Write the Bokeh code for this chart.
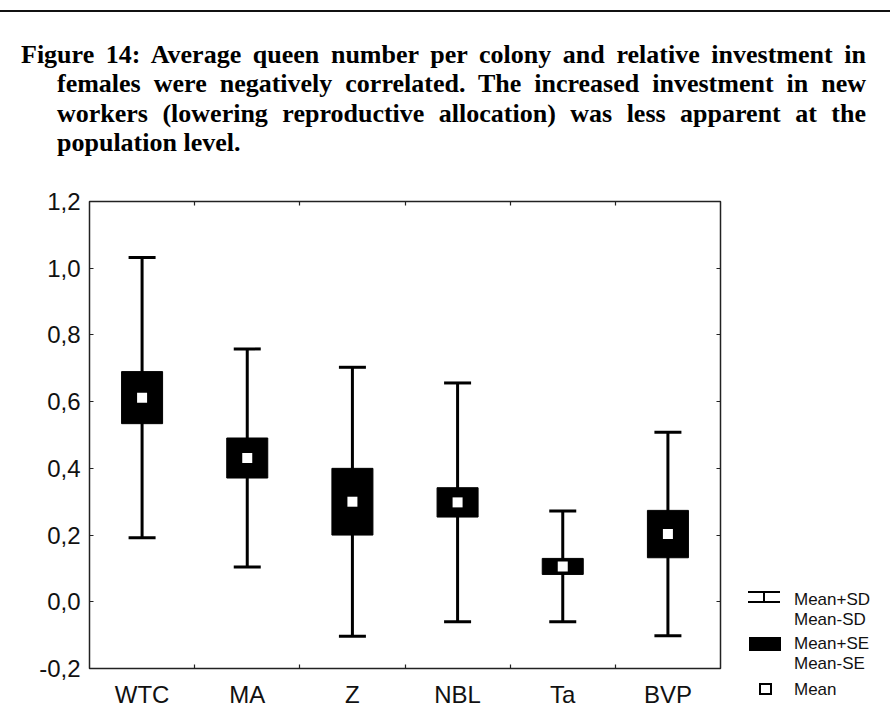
from bokeh.plotting import figure
from bokeh.models import (Range1d, LinearAxis, FixedTicker, Div, Whisker, TeeHead,
                          ColumnDataSource)
from bokeh.layouts import column, row
from bokeh.embed import file_html
from bokeh.resources import INLINE

# ---------------- data ----------------
CATEGORIES = ["WTC", "MA", "Z", "NBL", "Ta", "BVP"]
MEAN = [0.612, 0.431, 0.300, 0.298, 0.106, 0.203]
SE = [0.078, 0.060, 0.100, 0.044, 0.024, 0.071]
SD = [0.420, 0.327, 0.403, 0.358, 0.166, 0.305]
Y_TICKS = [-0.2, 0.0, 0.2, 0.4, 0.6, 0.8, 1.0, 1.2]
Y_TICK_LABELS = ["-0,2", "0,0", "0,2", "0,4", "0,6", "0,8", "1,0", "1,2"]
LEGEND_LABELS = ["Mean+SD", "Mean-SD", "Mean+SE", "Mean-SE", "Mean"]
TITLE = ("Figure 14: Average queen number per colony and relative investment in "
         "females were negatively correlated. The increased investment in new "
         "workers (lowering reproductive allocation) was less apparent at the "
         "population level.")

SANS = "Liberation Sans"

n = len(CATEGORIES)
xc = [i + 0.5 for i in range(n)]
src = ColumnDataSource(dict(
    x=xc, cat=CATEGORIES, mean=MEAN,
    sd_hi=[m + s for m, s in zip(MEAN, SD)],
    sd_lo=[m - s for m, s in zip(MEAN, SD)],
    se_hi=[m + s for m, s in zip(MEAN, SE)],
    se_lo=[m - s for m, s in zip(MEAN, SE)],
))

# ---------------- title ----------------
title_html = (
    '<div style="width:890px;height:2px;background:#111;margin:10px 0 0 0;"></div>'
    '<p style="margin:28px 0 0 21px;width:845px;box-sizing:border-box;'
    'padding-left:36px;text-indent:-36px;text-align:justify;'
    "font-family:'Liberation Serif',serif;font-weight:bold;font-size:26px;"
    'line-height:29.3px;color:#000;">' + TITLE + '</p>'
)
div = Div(text=title_html, width=890, height=178,
          styles={"overflow": "hidden", "margin": "0", "padding": "0"})

# ---------------- main plot ----------------
p = figure(width=725, height=532,
           x_range=Range1d(0, n), y_range=Range1d(-0.2, 1.2),
           x_axis_type=None, y_axis_type=None,
           output_backend="svg", toolbar_location=None,
           min_border_left=89, min_border_right=5,
           min_border_top=23, min_border_bottom=40,
           background_fill_color="white", border_fill_color="white")
p.xgrid.visible = False
p.ygrid.visible = False
p.outline_line_color = "#222222"
p.outline_line_width = 1.5
p.outline_line_alpha = 1.0

bounds = [float(i) for i in range(1, n)]

def x_axis(loc, labels):
    ax = LinearAxis(ticker=FixedTicker(ticks=xc, minor_ticks=bounds))
    ax.axis_line_color = None
    ax.major_tick_line_color = None
    ax.minor_tick_in = 4
    ax.minor_tick_out = 0
    ax.minor_tick_line_color = "#222222"
    ax.minor_tick_line_width = 1.2
    ax.major_label_text_font = SANS
    ax.major_label_text_font_size = "24px"
    ax.major_label_text_color = "#111"
    if labels:
        ax.major_label_overrides = {x: c for x, c in zip(xc, CATEGORIES)}
        ax.major_label_standoff = 6
    else:
        ax.major_label_overrides = {x: "" for x in xc}
        ax.major_label_standoff = 0
    p.add_layout(ax, loc)

def y_axis(loc, labels):
    ax = LinearAxis(ticker=FixedTicker(ticks=Y_TICKS, minor_ticks=[]))
    ax.axis_line_color = None
    ax.major_tick_in = 4
    ax.major_tick_out = 0
    ax.major_tick_line_color = "#222222"
    ax.major_tick_line_width = 1.2
    ax.minor_tick_line_color = None
    ax.major_label_text_font = SANS
    ax.major_label_text_font_size = "24px"
    ax.major_label_text_color = "#111"
    if labels:
        ax.major_label_overrides = {t: l for t, l in zip(Y_TICKS, Y_TICK_LABELS)}
        ax.major_label_standoff = 9
    else:
        ax.major_label_overrides = {t: "" for t in Y_TICKS}
        ax.major_label_standoff = 0
    p.add_layout(ax, loc)

x_axis("below", True)
x_axis("above", False)
y_axis("left", True)
y_axis("right", False)

wh = Whisker(base="x", upper="sd_hi", lower="sd_lo", source=src,
             line_color="black", line_width=3, level="underlay",
             upper_head=TeeHead(size=27, line_width=3, line_color="black"),
             lower_head=TeeHead(size=27, line_width=3, line_color="black"))
p.add_layout(wh)
p.vbar(x="x", width=0.39, top="se_hi", bottom="se_lo", source=src,
       fill_color="black", line_color="black", line_width=1)
p.scatter(x="x", y="mean", source=src, marker="square", size=10,
          fill_color="white", line_color=None)

# ---------------- legend panel (HTML, page origin at 725,178) ----------------
OX, OY = 725, 178

def blk(l, t, w, h, extra="background:#000;"):
    return (f'<div style="position:absolute;left:{l - OX}px;top:{t - OY}px;'
            f'width:{w}px;height:{h}px;box-sizing:border-box;{extra}"></div>')

icons = (
    blk(748, 591, 32, 2) + blk(748, 601, 32, 2) + blk(763, 592, 2, 10)   # whisker icon
    + blk(749, 637, 32, 14)                                              # SE icon
    + blk(759, 683, 13, 12, "background:#fff;border:2px solid #000;")    # mean icon
)
texts = "".join(
    f'<div style="position:absolute;left:{794 - OX}px;top:{yy - OY - 10}px;'
    f'line-height:20px;white-space:nowrap;">{lbl}</div>'
    for lbl, yy in zip(LEGEND_LABELS, [600, 620, 644, 664, 690])
)
legend_html = (
    f'<div style="position:relative;width:165px;height:532px;'
    f"font-family:'{SANS}',sans-serif;font-size:17px;color:#111;\">"
    + icons + texts + '</div>'
)
leg = Div(text=legend_html, width=165, height=532,
          styles={"margin": "0", "padding": "0"})

layout = column(div, row(p, leg))
open("out.html", "w").write(file_html(layout, INLINE))
